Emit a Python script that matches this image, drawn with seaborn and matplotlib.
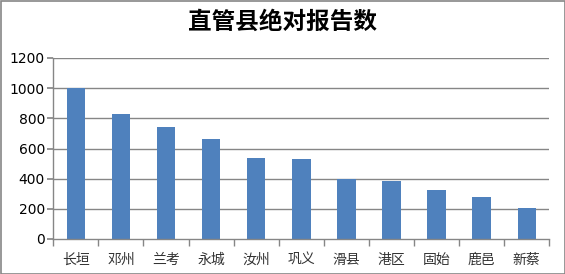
import matplotlib
matplotlib.use("Agg")
import matplotlib.pyplot as plt
import seaborn as sns
import pandas as pd
import numpy as np
from matplotlib.patches import Rectangle

categories = ["长垣", "邓州", "兰考", "永城", "汝州", "巩义", "滑县", "港区", "固始", "鹿邑", "新蔡"]
values = [1000, 830, 745, 665, 537, 530, 400, 385, 325, 280, 205]
y_ticks = [0, 200, 400, 600, 800, 1000, 1200]
title = "直管县绝对报告数"

sns.set_theme(style="white")
plt.rcParams['font.family'] = ['Noto Sans CJK SC', 'DejaVu Sans']

df = pd.DataFrame({"county": categories, "count": values})

fig = plt.figure(figsize=(5.65, 2.74), dpi=100)
ax = fig.add_axes([53.3/565, 1 - 239/274, (549.3-53.3)/565, (239-58)/274])

sns.barplot(data=df, x="county", y="count", color="#4F81BD", saturation=1, width=0.41,
            linewidth=0, edgecolor="none", ax=ax)

ax.set_ylim(0, 1200)
ax.set_xlim(-0.5, len(categories) - 0.5)
ax.set_yticks(y_ticks)
ax.set_yticklabels([str(v) for v in y_ticks], fontsize=10, family=['DejaVu Sans'])
ax.set_xlabel("")
ax.set_ylabel("")
for v in y_ticks[1:]:
    ax.axhline(v, color="#868686", lw=1, zorder=0)
for s in ["top", "right"]:
    ax.spines[s].set_visible(False)
for s in ["left", "bottom"]:
    ax.spines[s].set_color("#868686")
    ax.spines[s].set_linewidth(1)
ax.tick_params(axis="y", left=True, length=4, color="#868686", pad=2, labelcolor="black")
ax.tick_params(axis="x", bottom=False, pad=4)
ax.set_xticks(np.arange(len(categories)))
ax.set_xticklabels(categories, fontsize=10, color="#333333")
ax.set_xticks(np.arange(-0.5, len(categories)), minor=True)
ax.tick_params(axis="x", which="minor", bottom=True, length=5, color="#868686", width=1)
ax.set_axisbelow(True)

fig.text(0.5, 1 - 22/274, title, ha="center", va="center", fontsize=17, fontweight="bold",
         color="black")
fig.patches.append(Rectangle((0.5/565, 0.5/274), 1 - 1/565, 1 - 1/274, transform=fig.transFigure,
                             fill=False, edgecolor="#868686", lw=1.2))

fig.savefig("out.png", dpi=100)
